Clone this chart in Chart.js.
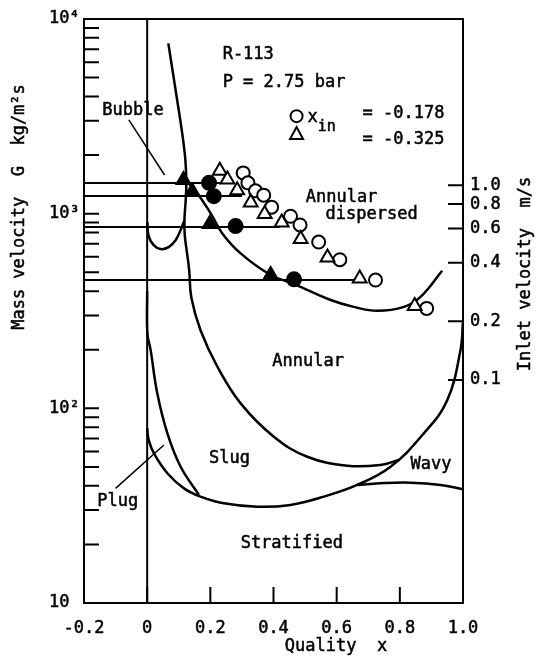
<!DOCTYPE html>
<html>
<head>
<meta charset="utf-8">
<title>R-113 flow pattern map</title>
<script src="https://cdn.jsdelivr.net/npm/chart.js@4.4.1/dist/chart.umd.min.js"></script>
<style>
  html, body { margin: 0; padding: 0; background: #fff; }
  canvas { display: block; }
</style>
</head>
<body>
<canvas id="map" width="538" height="666"></canvas>
<script>
// --- Data: quality x, mass velocity G (kg/m2s) ---

// open symbols: x_in = -0.178 (circles), x_in = -0.325 (triangles)
const openCircleX = [0.304, 0.319, 0.343, 0.369, 0.394, 0.454, 0.484, 0.543, 0.610, 0.723, 0.885];
const openCircleG = [1620, 1440, 1310, 1245, 1080, 970, 875, 715, 580, 456, 326];
const openTriX = [0.230, 0.254, 0.285, 0.328, 0.372, 0.426, 0.486, 0.571, 0.673, 0.847];
const openTriG = [1660, 1500, 1320, 1140, 995, 900, 740, 596, 465, 335];

// solid symbols on the inlet lines
const solidTriX = [0.115, 0.143, 0.198, 0.391];
const solidTriG = [1490, 1300, 884, 484];
const solidCircleX = [0.196, 0.211, 0.280, 0.465];
const solidCircleG = [1440, 1230, 863, 460];

// inlet lines (constant G), running in from x = -0.2
const inletG = [1436, 1231, 853, 456];
const inletEndX = [0.23, 0.30, 0.42, 0.665];

// flow pattern boundaries
const bubbleX = [0.067, 0.090, 0.111, 0.121, 0.124, 0.122, 0.118, 0.119, 0.125, 0.133, 0.140, 0.169, 0.222, 0.296, 0.401, 0.507, 0.634, 0.739, 0.796];
const bubbleG = [7500, 4315, 2585, 1885, 1436, 1175, 927, 776, 650, 513, 370, 252, 164, 106, 71.5, 56.4, 50.7, 51.2, 54.3];

const dispersedX = [0.1155, 0.159, 0.201, 0.238, 0.296, 0.391, 0.465, 0.581, 0.654, 0.7285, 0.813, 0.8655, 0.934];
const dispersedG = [1524, 1271, 1003, 792, 625, 484, 435, 360, 332, 317, 332, 374, 509];

const cupX = [0.0006, 0.0047, 0.0206, 0.0427, 0.068, 0.090, 0.106, 0.118];
const cupG = [905, 767, 690, 658, 673, 731, 824, 927];

const plugX = [0.0, 0.0006, 0.011, 0.032, 0.064, 0.106, 0.164];
const plugG = [400, 243, 199, 119.4, 74.4, 50.1, 35.9];

const stratX = [0.0, 0.005, 0.0215, 0.064, 0.1165, 0.169, 0.243, 0.349, 0.454, 0.5595, 0.665, 0.7706, 0.876, 0.950, 0.992, 1.0];
const stratG = [79.2, 68.7, 58.7, 46.4, 38.8, 35.2, 32.5, 31.2, 31.9, 35.2, 40.4, 50.1, 74.4, 110, 199, 280];

const wavyX = [0.665, 0.75, 0.834, 0.929, 1.0];
const wavyG = [40.4, 41.3, 41.5, 40.4, 38.4];

// leader lines from region names
const bubbleLeadX = [-0.058, 0.055];
const bubbleLeadG = [3030, 1580];
const plugLeadX = [-0.10, 0.053];
const plugLeadG = [38.8, 64.8];

// axis ticks
const xTicks = [-0.2, 0, 0.2, 0.4, 0.6, 0.8, 1.0];
const gDecades = [10, 100, 1000, 10000];
const gDecadeLabels = ["10", "10²", "10³", "10⁴"];
const velocityTicks = [0.1, 0.2, 0.4, 0.6, 0.8, 1.0];
const liquidDensity = 1400; // G = rho * v

// --- Drawing ---

const FONT = "'DejaVu Sans Mono', monospace";
const INK = 0.5; // extra stroke to give the typed text some weight
Chart.defaults.font.family = FONT;
Chart.defaults.font.size = 17;
Chart.defaults.color = "#000";

const toPoints = (xs, gs) => xs.map((x, i) => ({ x: x, y: gs[i] }));

function line(xs, gs, width, tension) {
  return {
    data: toPoints(xs, gs),
    showLine: true,
    borderColor: "#000",
    borderWidth: width,
    pointRadius: 0,
    tension: tension,
    order: 3,
  };
}

function symbols(xs, gs, style, filled, radius) {
  return {
    data: toPoints(xs, gs),
    showLine: false,
    pointStyle: style,
    pointRadius: radius,
    pointBackgroundColor: filled ? "#000" : "#fff",
    pointBorderColor: "#000",
    pointBorderWidth: 2,
    order: filled ? 0 : 1,
  };
}

const datasets = [
  symbols(solidTriX, solidTriG, "triangle", true, 8),
  symbols(solidCircleX, solidCircleG, "circle", true, 7),
  symbols(openTriX, openTriG, "triangle", false, 8),
  symbols(openCircleX, openCircleG, "circle", false, 6.5),
  line(bubbleX, bubbleG, 2.5, 0.4),
  line(dispersedX, dispersedG, 2.5, 0.4),
  line(cupX, cupG, 2.5, 0.4),
  line(plugX, plugG, 2.5, 0.4),
  line(stratX, stratG, 2.5, 0.4),
  line(wavyX, wavyG, 2.5, 0.4),
  line([0, 0], [10, 10000], 2, 0),
  line(bubbleLeadX, bubbleLeadG, 1.5, 0),
  line(plugLeadX, plugLeadG, 1.5, 0),
];

inletG.forEach((g, i) => {
  datasets.push(line([-0.2, inletEndX[i]], [g, g], 2, 0));
});

// region names and legend text, placed in data units
const notes = [
  { text: "R-113", x: 0.239, g: 6560 },
  { text: "P = 2.75 bar", x: 0.239, g: 4740 },
  { text: "Bubble", x: -0.142, g: 3385 },
  { text: "Annular", x: 0.502, g: 1210 },
  { text: "dispersed", x: 0.565, g: 984 },
  { text: "Annular", x: 0.396, g: 174 },
  { text: "Slug", x: 0.196, g: 55.4 },
  { text: "Wavy", x: 0.834, g: 51.2 },
  { text: "Plug", x: -0.158, g: 33.2 },
  { text: "Stratified", x: 0.296, g: 20.1 },
  { text: "x", x: 0.508, g: 3100 },
  { text: "= -0.178", x: 0.682, g: 3250 },
  { text: "= -0.325", x: 0.682, g: 2390 },
];

function inkText(ctx, text, x, y) {
  ctx.fillText(text, x, y);
  ctx.strokeText(text, x, y);
}

const annotate = {
  id: "annotate",
  afterDraw(chart) {
    const { ctx, chartArea: area, scales } = chart;
    const sx = scales.x;
    const sy = scales.y;
    const sv = scales.v;
    ctx.save();
    ctx.strokeStyle = "#000";
    ctx.fillStyle = "#000";
    ctx.lineWidth = 2;

    // frame
    ctx.strokeRect(area.left, area.top, area.right - area.left, area.bottom - area.top);

    // inward tick marks
    ctx.beginPath();
    sy.ticks.forEach((t) => {
      const py = sy.getPixelForValue(t.value);
      ctx.moveTo(area.left, py);
      ctx.lineTo(area.left + 15, py);
    });
    sv.ticks.forEach((t) => {
      const py = sv.getPixelForValue(t.value);
      ctx.moveTo(area.right, py);
      ctx.lineTo(area.right - 15, py);
    });
    sx.ticks.forEach((t) => {
      const px = sx.getPixelForValue(t.value);
      ctx.moveTo(px, area.bottom);
      ctx.lineTo(px, area.bottom - 16);
    });
    ctx.stroke();

    // legend symbols
    const lx = sx.getPixelForValue(0.473);
    const cy = sy.getPixelForValue(3170);
    const ty = sy.getPixelForValue(2564);
    ctx.beginPath();
    ctx.arc(lx, cy, 6, 0, Math.PI * 2);
    ctx.stroke();
    ctx.beginPath();
    ctx.moveTo(lx, ty - 7);
    ctx.lineTo(lx + 6.5, ty + 5);
    ctx.lineTo(lx - 6.5, ty + 5);
    ctx.closePath();
    ctx.stroke();

    // labels inside the map
    ctx.lineWidth = INK;
    ctx.font = "17px " + FONT;
    ctx.textAlign = "left";
    ctx.textBaseline = "middle";
    notes.forEach((n) => {
      inkText(ctx, n.text, sx.getPixelForValue(n.x), sy.getPixelForValue(n.g));
    });
    ctx.font = "15px " + FONT;
    inkText(ctx, "in", sx.getPixelForValue(0.540), sy.getPixelForValue(2800));

    // axis titles
    ctx.font = "17px " + FONT;
    ctx.textAlign = "center";
    inkText(ctx, "Quality  x", area.left + 252, area.bottom + 44);

    ctx.save();
    ctx.translate(20, area.top + 188);
    ctx.rotate(-Math.PI / 2);
    inkText(ctx, "Mass velocity  G  kg/m²s", 0, 0);
    ctx.restore();

    ctx.save();
    ctx.translate(area.right + 63, area.top + 255);
    ctx.rotate(-Math.PI / 2);
    inkText(ctx, "Inlet velocity  m/s", 0, 0);
    ctx.restore();

    ctx.restore();
  },
};

const axisLine = {
  grid: { display: true, drawOnChartArea: false, drawTicks: false },
  border: { display: true, color: "#000", width: 2 },
};

const tickInk = { textStrokeColor: "#000", textStrokeWidth: INK };

new Chart(document.getElementById("map"), {
  type: "scatter",
  data: { datasets: datasets },
  options: {
    responsive: false,
    animation: false,
    events: [],
    layout: { padding: { left: 49, top: 19, right: 0, bottom: 0 } },
    plugins: {
      legend: { display: false },
      tooltip: { enabled: false },
    },
    scales: {
      x: {
        type: "linear",
        min: -0.2,
        max: 1.0,
        ...axisLine,
        afterBuildTicks: (scale) => {
          scale.ticks = xTicks.map((v) => ({ value: v }));
        },
        afterFit: (scale) => {
          scale.height = 63;
        },
        ticks: {
          ...tickInk,
          autoSkip: false,
          maxRotation: 0,
          padding: 15,
          callback: (v) => (v === 0 ? "0" : Number(v).toFixed(1)),
        },
      },
      y: {
        type: "logarithmic",
        position: "left",
        min: 10,
        max: 10000,
        ...axisLine,
        afterBuildTicks: (scale) => {
          const ticks = [];
          gDecades.forEach((d, i) => {
            ticks.push({ value: d, major: true });
            if (i < gDecades.length - 1) {
              for (let k = 2; k <= 9; k++) ticks.push({ value: d * k });
            }
          });
          scale.ticks = ticks;
        },
        afterFit: (scale) => {
          scale.width = 35;
        },
        ticks: {
          ...tickInk,
          autoSkip: false,
          crossAlign: "far",
          callback: (v) => {
            const i = gDecades.indexOf(v);
            return i >= 0 ? gDecadeLabels[i] : "";
          },
        },
      },
      v: {
        type: "logarithmic",
        position: "right",
        min: 10 / liquidDensity,
        max: 10000 / liquidDensity,
        ...axisLine,
        afterBuildTicks: (scale) => {
          scale.ticks = velocityTicks.map((v) => ({ value: v }));
        },
        afterFit: (scale) => {
          scale.width = 75;
        },
        ticks: {
          ...tickInk,
          autoSkip: false,
          padding: 7,
          callback: (v) => Number(v).toFixed(1),
        },
      },
    },
  },
  plugins: [annotate],
});
</script>
</body>
</html>
